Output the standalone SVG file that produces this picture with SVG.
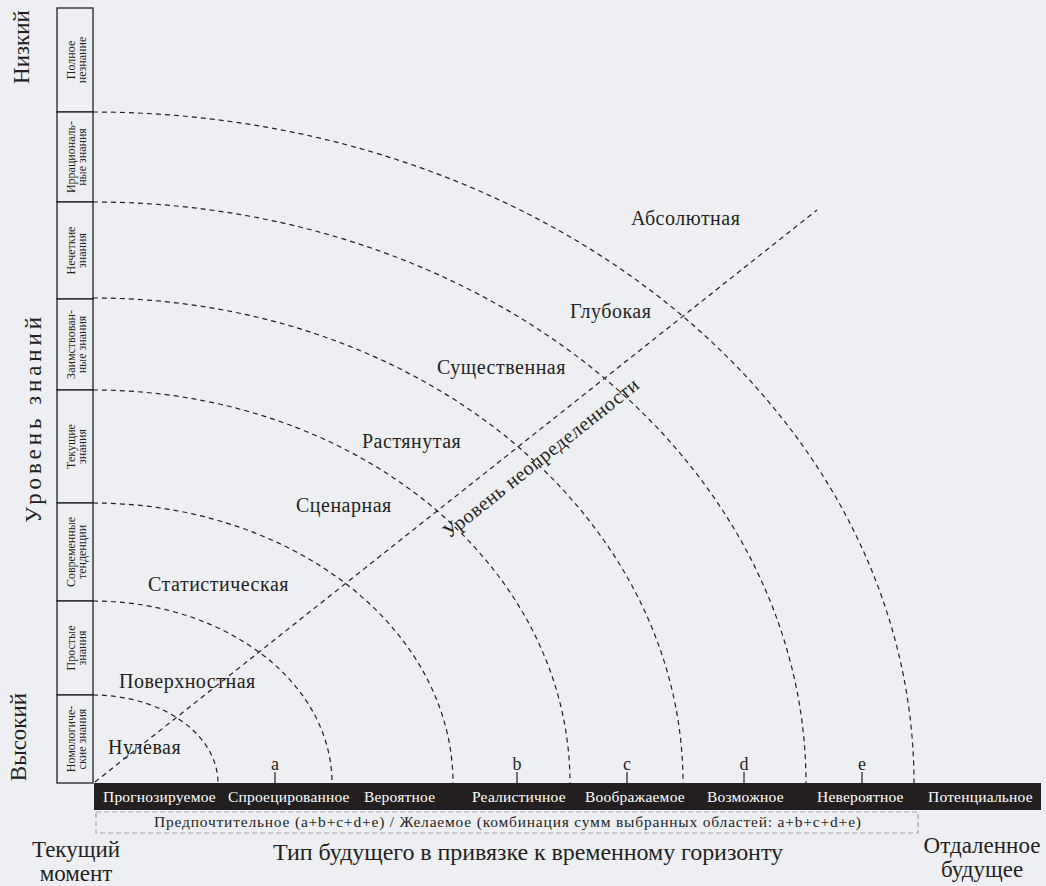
<svg xmlns="http://www.w3.org/2000/svg" width="1046" height="886" viewBox="0 0 1046 886">
  <style>
    text { font-family: "Liberation Serif", "Times New Roman", serif; fill: #231f20; }
    .arc { fill: none; stroke: #231f20; stroke-width: 1.2; stroke-dasharray: 5 4; }
    .box { fill: #eeeff3; stroke: #231f20; stroke-width: 1.3; }
    .boxt { font-size: 12px; text-anchor: middle; }
    .zone { font-size: 20px; letter-spacing: 0.5px; }
    .bar { font-size: 15.5px; fill: #ffffff; letter-spacing: 0.2px; }
    .mark { font-size: 18px; text-anchor: middle; }
    .tick { stroke: #231f20; stroke-width: 1.2; }
    .big { font-size: 23px; text-anchor: middle; }
  </style>

  <rect x="0" y="0" width="1046" height="886" fill="#eeeff3"/>

  <!-- knowledge-level scale -->
  <g id="scale">
    <g id="lvl-full-ignorance">
      <rect class="box" x="57" y="8" width="36" height="104"/>
      <g transform="translate(75,60) rotate(-90)"><text class="boxt" y="0">Полное</text><text class="boxt" y="11">незнание</text></g>
    </g>
    <g id="lvl-irrational">
      <rect class="box" x="57" y="112" width="36" height="90"/>
      <g transform="translate(75,157) rotate(-90)"><text class="boxt" y="0">Иррациональ-</text><text class="boxt" y="11">ные знания</text></g>
    </g>
    <g id="lvl-fuzzy">
      <rect class="box" x="57" y="202" width="36" height="97"/>
      <g transform="translate(75,250.5) rotate(-90)"><text class="boxt" y="0">Нечеткие</text><text class="boxt" y="11">знания</text></g>
    </g>
    <g id="lvl-borrowed">
      <rect class="box" x="57" y="299" width="36" height="91"/>
      <g transform="translate(75,344.5) rotate(-90)"><text class="boxt" y="0">Заимствован-</text><text class="boxt" y="11">ные знания</text></g>
    </g>
    <g id="lvl-current">
      <rect class="box" x="57" y="390" width="36" height="113"/>
      <g transform="translate(75,446.5) rotate(-90)"><text class="boxt" y="0">Текущие</text><text class="boxt" y="11">знания</text></g>
    </g>
    <g id="lvl-trends">
      <rect class="box" x="57" y="503" width="36" height="98"/>
      <g transform="translate(75,552) rotate(-90)"><text class="boxt" y="0">Современные</text><text class="boxt" y="11">тенденции</text></g>
    </g>
    <g id="lvl-simple">
      <rect class="box" x="57" y="601" width="36" height="94"/>
      <g transform="translate(75,648) rotate(-90)"><text class="boxt" y="0">Простые</text><text class="boxt" y="11">знания</text></g>
    </g>
    <g id="lvl-nomological">
      <rect class="box" x="57" y="695" width="36" height="88"/>
      <g transform="translate(75,739) rotate(-90)"><text class="boxt" y="0">Номологиче-</text><text class="boxt" y="11">ские знания</text></g>
    </g>
  </g>

  <!-- side captions -->
  <g id="side-captions">
    <text class="big" transform="translate(29,47) rotate(-90)">Низкий</text>
    <text class="big" font-size="27" transform="translate(41,420) rotate(-90)" textLength="206" lengthAdjust="spacing">Уровень знаний</text>
    <text class="big" transform="translate(26,737) rotate(-90)">Высокий</text>
  </g>

  <!-- uncertainty contours and axis -->
  <g id="connectors">
    <path class="arc" d="M93,695 A125,88 0 0 1 218,783"/>
    <path class="arc" d="M93,601 A239,182 0 0 1 332,783"/>
    <path class="arc" d="M93,503 A360,280 0 0 1 453,783"/>
    <path class="arc" d="M93,390 A477,393 0 0 1 570,783"/>
    <path class="arc" d="M93,298 A590,485 0 0 1 683,783"/>
    <path class="arc" d="M93,202 A713,581 0 0 1 806,783"/>
    <path class="arc" d="M93,112 A821,671 0 0 1 914,783"/>
    <line class="arc" x1="95" y1="782" x2="817" y2="210"/>
    <line class="tick" x1="275" y1="772" x2="275" y2="783"/>
    <line class="tick" x1="517" y1="772" x2="517" y2="783"/>
    <line class="tick" x1="627" y1="772" x2="627" y2="783"/>
    <line class="tick" x1="744" y1="772" x2="744" y2="783"/>
    <line class="tick" x1="862" y1="772" x2="862" y2="783"/>
  </g>

  <text id="axis-uncertainty" class="zone" font-size="21" transform="translate(545,463) rotate(-38.4)" text-anchor="middle">Уровень неопределенности</text>

  <!-- uncertainty zones -->
  <g id="zones">
    <text id="zone-zero" class="zone" x="108" y="754">Нулевая</text>
    <text id="zone-surface" class="zone" x="119" y="688">Поверхностная</text>
    <text id="zone-statistical" class="zone" x="148" y="591">Статистическая</text>
    <text id="zone-scenario" class="zone" x="296" y="512">Сценарная</text>
    <text id="zone-extended" class="zone" x="362" y="448">Растянутая</text>
    <text id="zone-substantial" class="zone" x="437" y="374">Существенная</text>
    <text id="zone-deep" class="zone" x="570" y="318">Глубокая</text>
    <text id="zone-absolute" class="zone" x="631" y="225">Абсолютная</text>
  </g>

  <!-- area markers -->
  <g id="markers">
    <text class="mark" x="275" y="770">a</text>
    <text class="mark" x="517" y="770">b</text>
    <text class="mark" x="627" y="770">c</text>
    <text class="mark" x="744" y="770">d</text>
    <text class="mark" x="862" y="770">e</text>
  </g>

  <!-- future-type bar -->
  <g id="future-bar">
    <rect x="94" y="783" width="947" height="27" fill="#231f20"/>
    <text class="bar" x="103" y="802">Прогнозируемое</text>
    <text class="bar" x="228" y="802">Спроецированное</text>
    <text class="bar" x="364" y="802">Вероятное</text>
    <text class="bar" x="472" y="802">Реалистичное</text>
    <text class="bar" x="585" y="802">Воображаемое</text>
    <text class="bar" x="707" y="802">Возможное</text>
    <text class="bar" x="817" y="802">Невероятное</text>
    <text class="bar" x="928" y="802">Потенциальное</text>
  </g>

  <g id="preferred">
    <rect x="96" y="812" width="822" height="21" fill="none" stroke="#a3a6b1" stroke-width="1.2" stroke-dasharray="5 3"/>
    <text x="154" y="827" font-size="15.5" textLength="707" lengthAdjust="spacing">Предпочтительное (a+b+c+d+e) / Желаемое (комбинация сумм выбранных областей: a+b+c+d+e)</text>
  </g>

  <!-- horizon captions -->
  <g id="horizon-captions">
    <text class="big" x="76" y="857" font-size="22">Текущий</text>
    <text class="big" x="76" y="881" font-size="22">момент</text>
    <text x="273" y="860" font-size="24" textLength="510" lengthAdjust="spacing">Тип будущего в привязке к временному горизонту</text>
    <text class="big" x="982" y="853" font-size="24">Отдаленное</text>
    <text class="big" x="982" y="877" font-size="24">будущее</text>
  </g>
</svg>
